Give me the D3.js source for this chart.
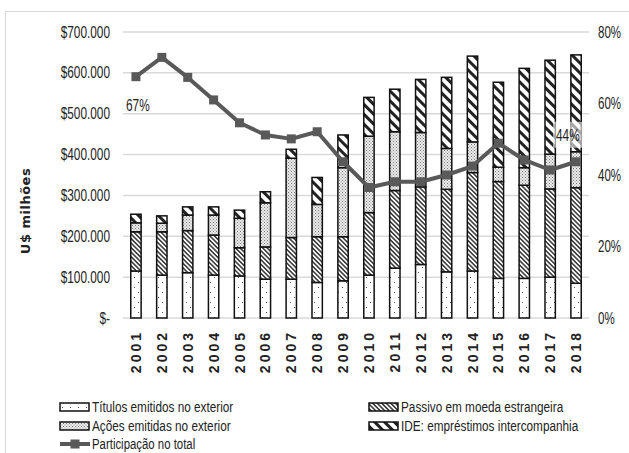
<!DOCTYPE html>
<html>
<head>
<meta charset="utf-8">
<script src="https://cdn.jsdelivr.net/npm/d3@7"></script>
<style>
  body { margin: 0; background: #fff; }
  text { font-family: "Liberation Sans", sans-serif; fill: #222; }
</style>
</head>
<body>
<svg id="chart" width="629" height="453"></svg>
<script>
// data (US$ thousands)
const years = ["2001","2002","2003","2004","2005","2006","2007","2008","2009","2010","2011","2012","2013","2014","2015","2016","2017","2018"];
const titulos = [115,105,111,105,103,95,95,87,91,105,122,131,113,115,97,97,100,85];
const passivo = [96,106,103,98,69,79,102,112,108,153,190,190,202,241,237,228,216,234];
const acoes   = [22,21,38,49,72,108,194,79,169,187,144,133,100,75,35,43,85,88];
const ide     = [21,18,20,20,20,27,22,66,80,95,104,130,174,210,208,243,230,237];
const participacao = [67.5,72.9,67.3,61,54.6,51.2,50.1,52.1,43.7,36.5,38.1,38.1,40,42.5,48.9,44.2,41.4,43.7];
const leftTicks = [0,100,200,300,400,500,600,700];
const rightTicks = [0,20,40,60,80];

const series = [
  {key: "titulos", name: "Títulos emitidos no exterior", values: titulos},
  {key: "passivo", name: "Passivo em moeda estrangeira", values: passivo},
  {key: "acoes", name: "Ações emitidas no exterior", values: acoes},
  {key: "ide", name: "IDE: empréstimos intercompanhia", values: ide}
];

const svg = d3.select("#chart");

// squeeze text horizontally around its x, the source font is a condensed one
function narrow(sel, k) {
  sel.each(function () {
    const ax = +this.getAttribute("x") || 0;
    d3.select(this).attr("transform", `translate(${ax * (1 - k)},0) scale(${k},1)`);
  });
}

// patterns
const defs = svg.append("defs");
let p = defs.append("pattern").attr("id","pat-titulos").attr("patternUnits","userSpaceOnUse")
  .attr("width",8).attr("height",10);
p.append("rect").attr("width",8).attr("height",10).attr("fill","#fff");
p.append("rect").attr("x",2).attr("y",2).attr("width",1).attr("height",1).attr("fill","#555");
p.append("rect").attr("x",6).attr("y",7).attr("width",1).attr("height",1).attr("fill","#555");

p = defs.append("pattern").attr("id","pat-passivo").attr("patternUnits","userSpaceOnUse")
  .attr("width",3.2).attr("height",6).attr("patternTransform","rotate(-45)");
p.append("rect").attr("width",3.2).attr("height",6).attr("fill","#fff");
p.append("line").attr("x1",0.8).attr("x2",0.8).attr("y1",0).attr("y2",6).attr("stroke","#333").attr("stroke-width",1.5);

p = defs.append("pattern").attr("id","pat-acoes").attr("patternUnits","userSpaceOnUse")
  .attr("width",3).attr("height",3);
p.append("rect").attr("width",3).attr("height",3).attr("fill","#ececec");
p.append("rect").attr("x",0).attr("y",0).attr("width",1).attr("height",1).attr("fill","#777");
p.append("rect").attr("x",1.5).attr("y",1.5).attr("width",1).attr("height",1).attr("fill","#888");

p = defs.append("pattern").attr("id","pat-ide").attr("patternUnits","userSpaceOnUse")
  .attr("width",7).attr("height",8).attr("patternTransform","rotate(-45)");
p.append("rect").attr("width",7).attr("height",8).attr("fill","#fff");
p.append("rect").attr("x",0).attr("y",0).attr("width",3).attr("height",8).attr("fill","#222");

// outer border
svg.append("rect").attr("x",5.5).attr("y",11.5).attr("width",700).attr("height",600)
  .attr("fill","none").attr("stroke","#d9d9d9").attr("stroke-width",1);

const x = d3.scaleBand().domain(years).range([123, 589]).paddingInner(0.6).paddingOuter(0.3);
const y = d3.scaleLinear().domain([0, 700]).range([318, 32]);
const y2 = d3.scaleLinear().domain([0, 80]).range([318, 32]);

// gridlines
svg.append("g").selectAll("line").data(leftTicks).join("line")
  .attr("x1",123).attr("x2",589)
  .attr("y1",d => y(d)).attr("y2",d => y(d))
  .attr("stroke","#d9d9d9").attr("stroke-width",1.5);

// left axis
const fmt = v => v === 0 ? "$-" : "$" + v + ".000";
const gl = svg.append("g").attr("transform","translate(110,0)")
  .call(d3.axisLeft(y).tickValues(leftTicks).tickFormat(fmt).tickSize(0).tickPadding(0));
gl.select(".domain").remove();
gl.selectAll("text").attr("font-size",16).attr("fill","#222").style("font-family",null).call(narrow, 0.74);

// right axis
const gr = svg.append("g").attr("transform","translate(598,0)")
  .call(d3.axisRight(y2).tickValues(rightTicks).tickFormat(d => d + "%").tickSize(0).tickPadding(0));
gr.select(".domain").remove();
gr.selectAll("text").attr("font-size",16).attr("fill","#222").style("font-family",null).call(narrow, 0.72);

// axis title
svg.append("text").attr("transform","translate(30,211) rotate(-90)")
  .attr("text-anchor","middle").attr("font-size",13).attr("font-weight","bold")
  .style("font-family","DejaVu Sans").style("letter-spacing","0.5px").text("U$ milhões");

// years
svg.append("g").selectAll("text").data(years).join("text")
  .attr("transform",d => `translate(${x(d) + x.bandwidth()/2 + 5},330) rotate(-90)`)
  .attr("text-anchor","end").attr("font-size",14).attr("font-weight","bold")
  .style("letter-spacing","3px").text(d => d);

// stacked bars
const rows = years.map((yr,i) => {
  const r = {year: yr};
  series.forEach(s => r[s.key] = s.values[i]);
  return r;
});
const stack = d3.stack().keys(series.map(s => s.key))(rows);
svg.append("g").selectAll("g").data(stack).join("g")
  .attr("fill",d => `url(#pat-${d.key})`)
  .selectAll("rect").data(d => d).join("rect")
  .attr("x",d => x(d.data.year)).attr("width",x.bandwidth())
  .attr("y",d => y(d[1])).attr("height",d => y(d[0]) - y(d[1]))
  .attr("stroke","#111").attr("stroke-width",1.5);

// line
const line = d3.line().x((d,i) => x(years[i]) + x.bandwidth()/2).y(d => y2(d));
svg.append("path").datum(participacao).attr("d",line)
  .attr("fill","none").attr("stroke","#595959").attr("stroke-width",4).attr("stroke-linejoin","round");
svg.append("g").selectAll("rect").data(participacao).join("rect")
  .attr("x",(d,i) => x(years[i]) + x.bandwidth()/2 - 4.5)
  .attr("y",d => y2(d) - 4.5).attr("width",9).attr("height",9).attr("fill","#595959");

// data labels
svg.append("text").attr("x",126).attr("y",111).attr("font-size",16).text("67%").call(narrow, 0.74);
const last = participacao.length - 1;
const lx = x(years[last]) + x.bandwidth()/2 - 20, ly = y2(participacao[last]) - 27;
svg.append("rect").attr("x",lx - 3).attr("y",ly - 13).attr("width",30).attr("height",26)
  .attr("fill","#fff").attr("fill-opacity",0.6);
svg.append("text").attr("x",lx).attr("y",ly + 6).attr("font-size",16).text("44%").call(narrow, 0.74);

// legend
const legend = [
  {key: "titulos", x: 60, y: 407},
  {key: "passivo", x: 369, y: 407},
  {key: "acoes", x: 60, y: 426},
  {key: "ide", x: 369, y: 426}
];
const lg = svg.append("g");
legend.forEach(l => {
  const s = series.find(d => d.key === l.key);
  lg.append("rect").attr("x",l.x).attr("y",l.y - 4).attr("width",29).attr("height",8)
    .attr("fill",`url(#pat-${l.key})`).attr("stroke","#111").attr("stroke-width",1.5);
  lg.append("text").attr("x",l.x + 32).attr("y",l.y + 5.5).attr("font-size",15.5).text(s.name).call(narrow, 0.76);
});
lg.append("line").attr("x1",60).attr("x2",90).attr("y1",444).attr("y2",444)
  .attr("stroke","#595959").attr("stroke-width",4);
lg.append("rect").attr("x",70.5).attr("y",439.5).attr("width",9).attr("height",9).attr("fill","#595959");
lg.append("text").attr("x",92).attr("y",449).attr("font-size",15).text("Participação no total").call(narrow, 0.76);
</script>
</body>
</html>
